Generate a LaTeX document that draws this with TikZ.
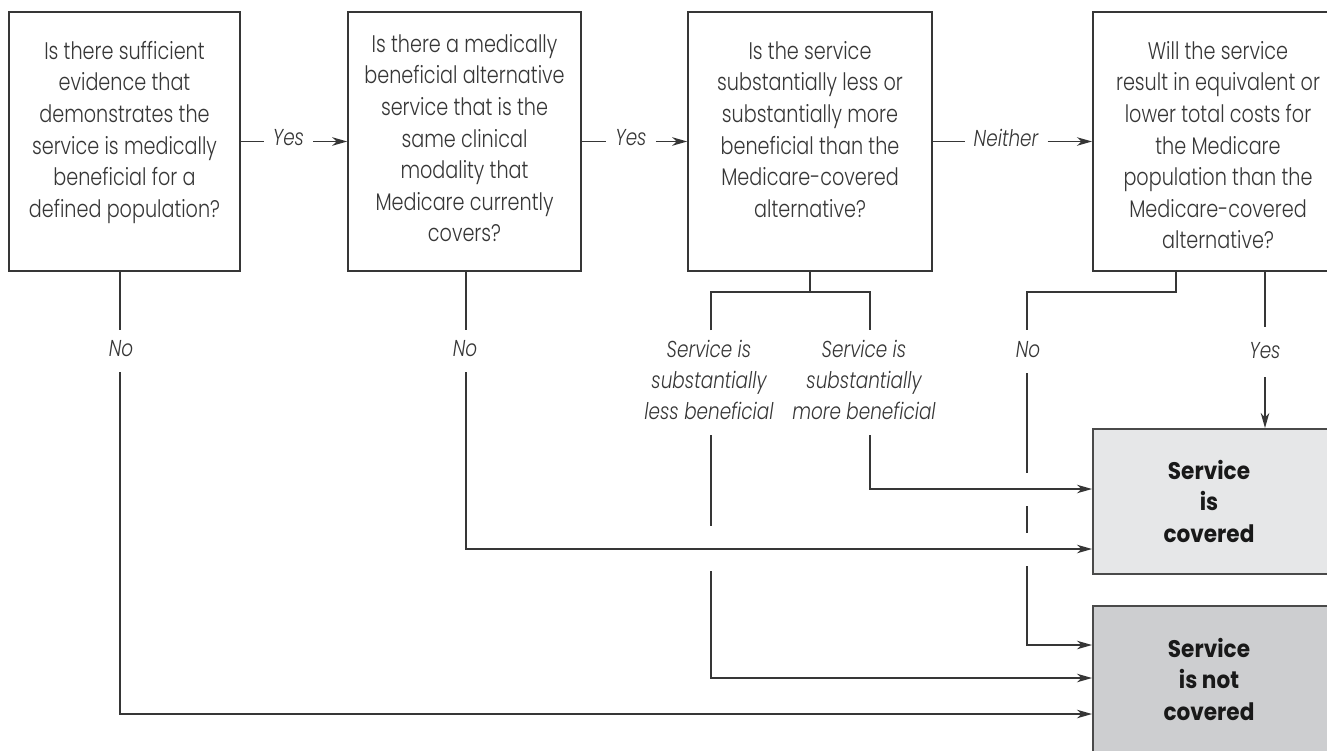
\documentclass[tikz,border=0pt]{standalone}
\usepackage{fontspec}
\newfontfamily\qfont{Poppins}[UprightFont=* Light, FakeStretch=0.8]
\newfontfamily\qitfont{Poppins}[UprightFont=* Light Italic, FakeStretch=0.8]
\newfontfamily\bfont{Poppins}[UprightFont=* Bold, FakeStretch=0.9]
\usetikzlibrary{arrows.meta}
\definecolor{ink}{HTML}{363636}
\definecolor{covfill}{HTML}{E6E7E8}
\definecolor{ncovfill}{HTML}{CDCED0}
\begin{document}
\begin{tikzpicture}[x=1pt,y=-1pt,
  qbox/.style={draw=ink, line width=1.6pt, inner sep=0, minimum height=259},
  cbox/.style={draw=ink!90, line width=1.6pt, inner sep=0},
  qtext/.style={font=\qfont\fontsize{24}{31.6}\selectfont, text=ink, align=center, inner sep=0},
  btext/.style={font=\bfont\fontsize{24}{31.5}\selectfont, text=black!90, align=center, inner sep=0},
  lab/.style={font=\qitfont\fontsize{23}{31}\selectfont, text=ink, align=center, inner sep=0},
  hlab/.style={lab, inner xsep=9pt},
  line/.style={draw=ink, line width=1.4pt},
  arr/.style={line, -{Stealth[length=15pt,width=8.5pt,inset=4.5pt]}}]
\clip (0,0) rectangle (1327,751);
\fill[white] (0,0) rectangle (1327,751);

% question boxes
\node[qbox, minimum width=231] (b1) at (124.5,141.5) {};
\node[qbox, minimum width=233] (b2) at (464.5,141.5) {};
\node[qbox, minimum width=244] (b3) at (810,141.5) {};
\node[qbox, minimum width=260, anchor=west] (b4) at (1092,141.5) {};

\node[qtext, anchor=north] (t1) at (124.5,41) {Is there sufficient\\evidence that\\demonstrates the\\service is medically\\beneficial for a\\defined population?};
\node[qtext, anchor=north] (t2) at (464.5,34) {Is there a medically\\beneficial alternative\\service that is the\\same clinical\\modality that\\Medicare currently\\covers?};
\node[qtext, anchor=north] (t3) at (810,41) {Is the service\\substantially less or\\substantially more\\beneficial than the\\Medicare-covered\\alternative?};
\node[qtext, anchor=north] (t4) at (1218,41) {Will the service\\result in equivalent or\\lower total costs for\\the Medicare\\population than the\\Medicare-covered\\alternative?};

% outcome boxes
\node[cbox, fill=covfill, minimum width=260, minimum height=145, anchor=north west] (cov) at (1092,428) {};
\node[cbox, fill=ncovfill, minimum width=260, minimum height=170, anchor=north west] (ncov) at (1092,605) {};
\node[btext] (covt) at (1209,501) {Service\\is\\covered};
\node[btext] (ncovt) at (1209,679) {Service\\is not\\covered};

% horizontal Yes / Neither connectors
\node[hlab] (y1) at (288.5,138) {Yes};
\node[hlab] (y2) at (631,138) {Yes};
\node[hlab] (y3) at (1006,138) {Neither};
\draw[line] (b1.east) -- (y1.west |- b1.east);
\draw[arr] (y1.east |- b1.east) -- (b2.west);
\draw[line] (b2.east) -- (y2.west |- b2.east);
\draw[arr] (y2.east |- b2.east) -- (b3.west);
\draw[line] (b3.east) -- (y3.west |- b3.east);
\draw[arr] (y3.east |- b3.east) -- (b4.west);

% vertical labels
\node[lab] (no1) at (121,349) {No};
\node[lab] (no2) at (465,349) {No};
\node[lab] (no4) at (1028,350) {No};
\node[lab] (yes4) at (1265,351) {Yes};
\node[lab, anchor=north] (less) at (709,340) {Service is\\substantially\\less beneficial};
\node[lab, anchor=north] (more) at (864,340) {Service is\\substantially\\more beneficial};

% coordinates
\coordinate (n1a) at (120,330); \coordinate (n1b) at (120,372); \coordinate (n1c) at (120,714);
\coordinate (n2a) at (466,330); \coordinate (n2b) at (466,372); \coordinate (n2c) at (466,549);
\coordinate (j3) at (810,292);
\coordinate (l3a) at (711,330); \coordinate (l3b) at (711,292);
\coordinate (r3a) at (870,330); \coordinate (r3b) at (870,292);
\coordinate (l3c) at (711,435); \coordinate (l3d) at (711,526);
\coordinate (l3e) at (711,571); \coordinate (l3f) at (711,678);
\coordinate (r3c) at (870,435); \coordinate (r3d) at (870,489);
\coordinate (j4) at (1176,292); \coordinate (n4t) at (1027,292);
\coordinate (n4a) at (1027,330); \coordinate (n4b) at (1027,373);
\coordinate (n4c) at (1027,473); \coordinate (n4d) at (1027,506);
\coordinate (n4e) at (1027,533); \coordinate (n4f) at (1027,566);
\coordinate (n4g) at (1027,645);
\coordinate (y4a) at (1265,327); \coordinate (y4b) at (1265,377);

% box 1 No
\draw[line] (b1.south -| n1a) -- (n1a);
\draw[arr] (n1b) -- (n1c) -- (ncov.west |- n1c);
% box 2 No
\draw[line] (b2.south -| n2a) -- (n2a);
\draw[arr] (n2b) -- (n2c) -- (cov.west |- n2c);
% box 3 branches
\draw[line] (b3.south -| j3) -- (j3);
\draw[line] (l3a) -- (l3b) -- (r3b) -- (r3a);
\draw[line] (l3c) -- (l3d);
\draw[arr] (l3e) -- (l3f) -- (ncov.west |- l3f);
\draw[arr] (r3c) -- (r3d) -- (cov.west |- r3d);
% box 4 No
\draw[line] (b4.south -| j4) -- (j4) -- (n4t) -- (n4a);
\draw[line] (n4b) -- (n4c);
\draw[line] (n4d) -- (n4e);
\draw[arr] (n4f) -- (n4g) -- (ncov.west |- n4g);
% box 4 Yes
\draw[line] (b4.south -| y4a) -- (y4a);
\draw[arr] (y4b) -- (cov.north -| y4b);
\end{tikzpicture}
\end{document}
